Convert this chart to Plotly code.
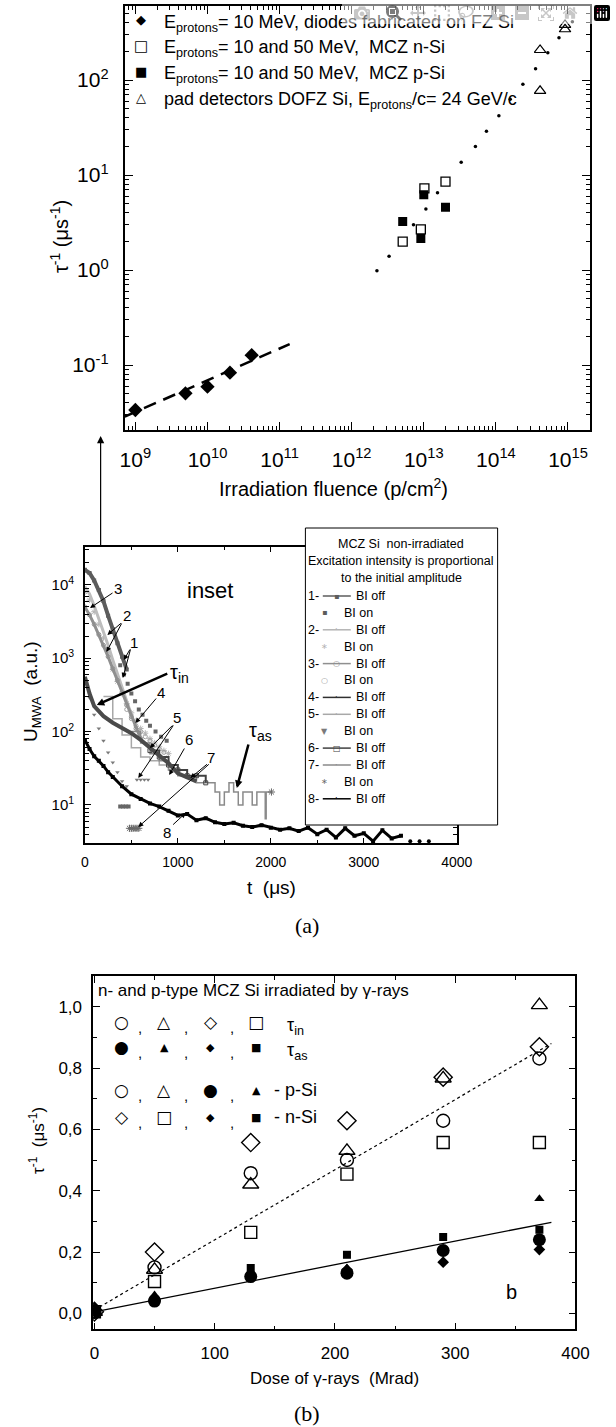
import plotly.graph_objects as go

W, H = 616, 1427
SANS = "Liberation Sans, Arial, sans-serif"
SERIF = "Liberation Serif, Times New Roman, serif"
GLYPH = "DejaVu Sans"

# ---------------- (a) upper panel: tau^-1 vs fluence ----------------
fz_fluence = [1.0e9, 4.95e9, 1.0e10, 2.05e10, 4.1e10]
fz_rate = [0.0336, 0.0503, 0.0591, 0.083, 0.127]
fz_fit_fluence = [7.13e8, 1.38e11]
fz_fit_rate = [0.0286, 0.166]
mcz_n_fluence = [5.1e12, 9.1e12, 1.02e13, 2.0e13]
mcz_n_rate = [1.99, 2.68, 7.25, 8.5]
mcz_p_fluence = [5.1e12, 9.1e12, 1.0e13, 2.0e13]
mcz_p_rate = [3.24, 2.15, 6.2, 4.57]
dofz_fluence = [4.1e14, 4.1e14, 9.1e14, 9.1e14]
dofz_rate = [207, 77, 342, 380]
trend_fluence = [2.24e12, 3.3e12, 7.2e12, 1.07e13, 1.55e13, 3.3e13, 5.2e13, 7.4e13,
                 1.1e14, 1.58e14, 2.37e14, 3.55e14, 5.25e14, 7.5e14, 1.15e15]
trend_rate = [0.98, 1.40, 3.0, 4.4, 6.5, 13.6, 19.9, 28.8, 42, 62.6, 90, 131, 194, 278, 410]
fluence_ticks = [1e9, 1e10, 1e11, 1e12, 1e13, 1e14, 1e15]
fluence_ticktext = ["10<sup>9</sup>", "10<sup>10</sup>", "10<sup>11</sup>", "10<sup>12</sup>",
                    "10<sup>13</sup>", "10<sup>14</sup>", "10<sup>15</sup>"]
rate_ticks = [0.1, 1, 10, 100]
rate_ticktext = ["10<sup>-1</sup>", "10<sup>0</sup>", "10<sup>1</sup>", "10<sup>2</sup>"]

# ---------------- (a) inset: MWA transients ----------------
c1_off_t = [0, 50, 100, 150, 200, 250, 300, 350, 400, 450]
c1_off_u = [16000, 14500, 11500, 8500, 6000, 3800, 2500, 1600, 1050, 700]
c1_on_t = [380, 420, 460, 500, 540, 580, 620, 660, 700, 760, 820, 880, 380, 410, 440, 470]
c1_on_u = [800, 600, 450, 330, 260, 200, 170, 140, 120, 100, 85, 75, 9.5, 9.5, 9.5, 9.5]
c2_off_t = [0, 50, 100, 150, 200, 250, 300, 350, 400, 450, 500]
c2_off_u = [9500, 7500, 5200, 3500, 2300, 1500, 950, 620, 400, 260, 170]
c2_on_t = [0, 50, 100, 150, 200, 250, 300, 350, 400, 450, 500, 550, 600, 650, 700, 750, 800, 850, 900]
c2_on_u = [8000, 6200, 4300, 2900, 1900, 1200, 700, 480, 330, 240, 180, 140, 110, 95, 80, 70, 62, 55, 50]
c3_off_t = [0, 50, 100, 150, 200, 250, 300, 350, 400, 450, 500, 550, 600]
c3_off_u = [5000, 3900, 2900, 2100, 1500, 1050, 720, 500, 340, 230, 160, 110, 80]
c3_on_t = [450, 500, 550, 600, 650, 700, 750, 800, 850]
c3_on_u = [200, 150, 120, 100, 85, 75, 65, 58, 52]
c4_off_t = [0, 50, 100, 150, 200, 300, 400, 500, 600, 700, 800, 900, 1000, 1100, 1200]
c4_off_u = [560, 330, 222, 185, 162, 132, 113, 95, 77, 60, 47, 37, 27, 24, 21]
c5_off_t = [200, 300, 400, 500, 600, 700, 800, 900, 1000]
c5_off_u = [300, 150, 90, 60, 45, 40, 35, 30, 28]
c5_on_t = [0, 50, 100, 150, 200, 250, 300, 350, 400, 450, 560, 600, 640, 680]
c5_on_u = [500, 290, 170, 110, 75, 52, 38, 28, 21, 18, 22, 22, 22, 22]
c6_off_t = [700, 800, 900, 1000, 1100, 1200, 1300]
c6_off_u = [55, 45, 35, 30, 25, 25, 20]
c7_off_t = [500, 600, 700, 800, 900, 1000, 1100, 1200, 1300, 1400, 1450, 1500, 1550, 1600, 1650,
            1700, 1750, 1800, 1850, 1900, 1940, 1950, 2000, 2010]
c7_off_u = [100, 70, 50, 40, 30, 25, 25, 20, 20, 15, 10, 15, 20, 15, 10, 15, 15, 10, 15, 15,
            6.5, 15, 15, 15]
c7_on_t = [480, 500, 520, 540, 560, 580, 2007]
c7_on_u = [4.8, 4.8, 4.8, 4.8, 4.8, 4.8, 15]
c8_off_t = [0, 50, 100, 150, 200, 250, 300, 400, 500, 600, 700, 800, 900, 1000, 1100, 1200,
            1300, 1400, 1500, 1600, 1700, 1800, 1900, 2000, 2100, 2200, 2300, 2400, 2500, 2600,
            2700, 2800, 2900, 3000, 3100, 3200, 3300, 3400]
c8_off_u = [77, 58, 46, 40, 34, 28, 24, 18, 14, 12, 10.5, 9.5, 8.3, 7.2, 7.5, 6.2, 6.6, 5.8,
            5.5, 5.7, 5.2, 5.0, 5.3, 4.9, 4.6, 4.8, 4.4, 4.9, 4.0, 4.6, 3.6, 4.8, 3.8, 4.1,
            3.2, 4.5, 3.5, 3.8]
c8_tail_t = [3500, 3600, 3700]
c8_tail_u = [3.2, 3.2, 3.2]
inset_yticks = [10, 100, 1000, 10000]
inset_yticktext = ["10<sup>1</sup>", "10<sup>2</sup>", "10<sup>3</sup>", "10<sup>4</sup>"]

# ---------------- (b) gamma irradiation ----------------
dose = [0, 50, 130, 210, 290, 370]
p_in_circle = [0.005, 0.15, 0.457, 0.50, 0.628, 0.831]
p_in_triangle = [0.005, 0.142, 0.42, 0.53, 0.766, 1.005]
n_in_diamond = [0.005, 0.20, 0.557, 0.628, 0.77, 0.869]
n_in_square = [0.005, 0.104, 0.264, 0.454, 0.557, 0.557]
p_as_circle = [0.005, 0.04, 0.12, 0.131, 0.205, 0.24]
p_as_triangle = [0.005, 0.06, 0.13, 0.148, 0.2, 0.374]
n_as_diamond = [0.02, 0.05, 0.125, 0.142, 0.167, 0.208]
n_as_square = [0.005, 0.045, 0.148, 0.191, 0.249, 0.273]
fit_dose = [0, 380]
fit_as = [0.005, 0.297]
fit_in = [0.011, 0.88]
b_yticks = [0.0, 0.2, 0.4, 0.6, 0.8, 1.0]
b_yticktext = ["0,0", "0,2", "0,4", "0,6", "0,8", "1,0"]


def P(px, py):
    return px / W, 1 - py / H


fig = go.Figure()

# ---- upper panel traces
fig.add_trace(go.Scatter(x=fz_fit_fluence, y=fz_fit_rate, mode="lines",
                         line=dict(color="black", width=2.5, dash="13px,8px"), xaxis="x", yaxis="y"))
fig.add_trace(go.Scatter(x=trend_fluence, y=trend_rate, mode="markers",
                         marker=dict(color="black", size=3.5), xaxis="x", yaxis="y"))
fig.add_trace(go.Scatter(x=fz_fluence, y=fz_rate, mode="markers",
                         marker=dict(symbol="diamond", color="black", size=11), xaxis="x", yaxis="y"))
fig.add_trace(go.Scatter(x=mcz_p_fluence, y=mcz_p_rate, mode="markers",
                         marker=dict(symbol="square", color="black", size=9), xaxis="x", yaxis="y"))
fig.add_trace(go.Scatter(x=mcz_n_fluence, y=mcz_n_rate, mode="markers",
                         marker=dict(symbol="square-open", color="black", size=9, line=dict(width=1.3)),
                         xaxis="x", yaxis="y"))
fig.add_trace(go.Scatter(x=dofz_fluence, y=dofz_rate, mode="markers",
                         marker=dict(symbol="triangle-up-open", color="black", size=10, line=dict(width=1.2)),
                         xaxis="x", yaxis="y"))

# ---- inset traces
def inset(t, u, mode, color, width=2, symbol="circle", size=4, shape="linear", mline=None):
    kw = dict(x=t, y=u, mode=mode, xaxis="x2", yaxis="y2")
    if "lines" in mode:
        kw["line"] = dict(color=color, width=width, shape=shape)
    m = dict(symbol=symbol, color=color, size=size)
    if mline:
        m["line"] = dict(color=color, width=mline)
    kw["marker"] = m
    fig.add_trace(go.Scatter(**kw))

inset(c2_on_t, c2_on_u, "markers", "#b4b4b4", symbol="asterisk", size=5, mline=1)
inset(c2_off_t, c2_off_u, "lines", "#bdbdbd", width=3)
inset(c3_on_t, c3_on_u, "markers", "#a0a0a0", symbol="circle-open", size=4, mline=1)
inset(c3_off_t, c3_off_u, "lines+markers", "#8f8f8f", width=3, symbol="circle-open", size=4, mline=1)
inset(c1_on_t, c1_on_u, "markers", "#666666", symbol="square", size=4)
inset(c1_off_t, c1_off_u, "lines+markers", "#5c5c5c", width=4, symbol="square", size=4)
inset(c5_off_t, c5_off_u, "lines", "#a8a8a8", width=1.5, shape="hv")
inset(c5_on_t, c5_on_u, "markers", "#7a7a7a", symbol="triangle-down", size=4)
inset(c7_off_t, c7_off_u, "lines", "#8a8a8a", width=1.5, shape="hv")
inset(c7_on_t, c7_on_u, "markers", "#6a6a6a", symbol="asterisk", size=6, mline=1)
inset(c6_off_t, c6_off_u, "lines+markers", "#404040", width=2, symbol="square-open", size=4, shape="hv", mline=1)
inset(c4_off_t, c4_off_u, "lines", "#4a4a4a", width=4)
inset(c8_off_t, c8_off_u, "lines+markers", "black", width=3, symbol="square", size=4)
inset(c8_tail_t, c8_tail_u, "markers", "black", symbol="circle", size=4)

# ---- panel (b) traces
def bt(y, symbol, size, lw=1.4):
    fig.add_trace(go.Scatter(x=dose, y=y, mode="markers", xaxis="x3", yaxis="y3",
                             marker=dict(symbol=symbol, size=size, color="black",
                                         line=dict(color="black", width=lw))))

fig.add_trace(go.Scatter(x=fit_dose, y=fit_in, mode="lines", xaxis="x3", yaxis="y3",
                         line=dict(color="black", width=1.2, dash="dot")))
fig.add_trace(go.Scatter(x=fit_dose, y=fit_as, mode="lines", xaxis="x3", yaxis="y3",
                         line=dict(color="black", width=1.3)))
bt(p_as_circle, "circle", 13, 0)
bt(p_as_triangle, "triangle-up", 9, 0)
bt(n_as_diamond, "diamond", 9, 0)
bt(n_as_square, "square", 8, 0)
bt(p_in_circle, "circle-open", 13)
bt(p_in_triangle, "triangle-up-open", 14)
bt(n_in_diamond, "diamond-open", 14)
bt(n_in_square, "square-open", 12)

# ---------------- axes ----------------
def axstyle(lw=1.5, size=14, tl=8, standoff=6):
    return dict(showline=True, linecolor="black", linewidth=lw, mirror="ticks",
                ticks="inside", ticklen=tl, tickwidth=1.3, tickcolor="black",
                showgrid=False, zeroline=False, ticklabelstandoff=standoff,
                tickfont=dict(family=SANS, size=size, color="black"))

def logminor(lo, hi):
    vals = []
    for e in range(lo, hi):
        for k in range(2, 10):
            vals.append(k * 10 ** e)
    return dict(ticks="inside", ticklen=4, tickwidth=1, tickcolor="black",
                tickmode="array", tickvals=vals, showgrid=False)

layout = dict(
    width=W, height=H, margin=dict(l=0, r=0, t=0, b=0),
    paper_bgcolor="white", plot_bgcolor="white", showlegend=False,
    xaxis=dict(**axstyle(2, 21, 8, 10), type="log", range=[8.853, 15.31],
               domain=[124 / W, 606 / W], anchor="y",
               tickmode="array", tickvals=fluence_ticks, ticktext=fluence_ticktext,
               minor=logminor(8, 16)),
    yaxis=dict(**axstyle(2, 21, 8, 10), type="log", range=[-1.684, 2.779],
               domain=[1 - 430 / H, 1 - 6 / H], anchor="x",
               tickmode="array", tickvals=rate_ticks, ticktext=rate_ticktext,
               minor=logminor(-2, 3)),
    xaxis2=dict(**axstyle(1.5, 14, 6, 5), range=[0, 4000], dtick=1000,
                domain=[82.7 / W, 467.7 / W], anchor="y2",
                minor=dict(ticks="inside", ticklen=4, dtick=500, tickcolor="black", showgrid=False)),
    yaxis2=dict(**axstyle(1.5, 15, 6, 6), type="log", range=[0.477, 4.52],
                domain=[1 - 843.3 / H, 1 - 546.7 / H], anchor="x2",
                tickmode="array", tickvals=inset_yticks, ticktext=inset_yticktext,
                minor=logminor(0, 5)),
    xaxis3=dict(**axstyle(1.5, 17, 7, 8), range=[-1, 400], dtick=100,
                domain=[91.3 / W, 590.6 / W], anchor="y3",
                minor=dict(ticks="inside", ticklen=4, dtick=50, tickcolor="black", showgrid=False)),
    yaxis3=dict(**axstyle(1.5, 17, 7, 6), range=[-0.052, 1.10],
                domain=[1 - 1329.3 / H, 1 - 976 / H], anchor="x3",
                tickmode="array", tickvals=b_yticks, ticktext=b_yticktext,
                minor=dict(ticks="inside", ticklen=4, dtick=0.1, tickcolor="black", showgrid=False)),
)

annotations = []
shapes = []

def text(px, py, s, size, xa="center", ya="middle", family=SANS, angle=0, color="black"):
    x, y = P(px, py)
    annotations.append(dict(x=x, y=y, xref="paper", yref="paper", text=s, showarrow=False,
                            xanchor=xa, yanchor=ya, textangle=angle,
                            font=dict(size=size, family=family, color=color)))

def arrow(hx, hy, tx, ty, width=1.0, head=2, size=1.0):
    x, y = P(hx, hy)
    annotations.append(dict(x=x, y=y, xref="paper", yref="paper", ax=tx - hx, ay=ty - hy,
                            text="", showarrow=True, arrowhead=head, arrowwidth=width,
                            arrowsize=size, arrowcolor="black"))

# ---- upper panel labels
text(56, 237, "τ<sup>-1</sup> (μs<sup>-1</sup>)", 20, angle=-90)
text(340, 487, "Irradiation fluence (p/cm<sup>2</sup>)", 20)
leg_rows = [("◆", 13, "E<sub>protons</sub>= 10 MeV, diodes fabricated on FZ Si"),
            ("□", 15, "E<sub>protons</sub>= 10 and 50 MeV,  MCZ n-Si"),
            ("■", 13, "E<sub>protons</sub>= 10 and 50 MeV,  MCZ p-Si"),
            ("△", 13, "pad detectors DOFZ Si, E<sub>protons</sub>/c= 24 GeV/c")]
for i, (g, gs, s) in enumerate(leg_rows):
    yy = 20 + i * 25.7
    text(141, yy, g, gs, family=GLYPH)
    text(163, yy + 3, s, 18, xa="left")

# arrow from inset to upper panel
arrow(99, 436, 99, 547, width=1.2, head=2, size=1.2)

# ---- inset labels
text(28, 692, "U<sub>MWA</sub>  (a.u.)", 19, angle=-90)
text(276, 887, "t  (μs)", 19)
text(313, 925, "(a)", 22, family=SERIF)
text(212, 590, "inset", 22)
for lab, px, py in [("3", 117, 588), ("2", 126, 615), ("1", 134, 642), ("4", 162, 692),
                    ("5", 178, 718), ("6", 190, 740), ("7", 213, 757), ("8", 168, 832)]:
    text(px, py, lab, 15)
text(181, 673, "τ<sub>in</sub>", 20)
text(264, 731, "τ<sub>as</sub>", 20)
arrow(88, 608, 112, 592)
arrow(106, 635, 121, 622)
arrow(105, 652, 121, 622)
arrow(123, 660, 130, 648)
arrow(122, 678, 130, 648)
arrow(95, 705, 167, 673, width=2.5, size=0.6)
arrow(135, 723, 157, 697)
arrow(150, 748, 174, 724)
arrow(138, 778, 174, 724)
arrow(170, 775, 186, 747)
arrow(192, 778, 210, 763)
arrow(138, 827, 210, 763)
arrow(187, 813, 173, 826)
arrow(240, 788, 252, 743, width=2.5, size=0.6)

# inset legend box
x0, y0 = P(311, 528)
x1, y1 = P(510, 825)
shapes.append(dict(type="rect", xref="paper", yref="paper", x0=x0, y0=y1, x1=x1, y1=y0,
                   line=dict(color="black", width=1), fillcolor="white", layer="above"))
for s, yy in [("MCZ Si  non-irradiated", 544), ("Excitation intensity is proportional", 561),
              ("to the initial amplitude", 578)]:
    text(410, yy, s, 12.5)
inset_leg = [("1-", "BI off", "#5c5c5c", "▪"), ("", "BI on", "#5c5c5c", "▪"),
             ("2-", "BI off", "#b4b4b4", "·"), ("", "BI on", "#b4b4b4", "∗"),
             ("3-", "BI off", "#8f8f8f", "○"), ("", "BI on", "#a0a0a0", "○"),
             ("4-", "BI off", "#303030", "·"), ("5-", "BI off", "#a8a8a8", "·"),
             ("", "BI on", "#7a7a7a", "▼"), ("6-", "BI off", "#404040", "□"),
             ("7-", "BI off", "#8a8a8a", "·"), ("", "BI on", "#6a6a6a", "∗"),
             ("8-", "BI off", "black", "·")]
for i, (num, lab, col, g) in enumerate(inset_leg):
    yy = 596 + i * 16.9
    if num:
        text(312, yy, num, 12.5, xa="left")
        ax0, ay0 = P(329, yy)
        ax1, _ = P(358, yy)
        shapes.append(dict(type="line", xref="paper", yref="paper", x0=ax0, y0=ay0, x1=ax1, y1=ay0,
                           line=dict(color=col, width=1.5), layer="above"))
        text(343.5, yy, g, 8, family=GLYPH, color=col)
        text(361, yy, lab, 12.5, xa="left")
    else:
        text(331, yy, g, 8, family=GLYPH, color=col)
        text(349, yy, lab, 12.5, xa="left")

# ---- panel (b) labels
text(94, 990, "n- and p-type MCZ Si irradiated by γ-rays", 17, xa="left")
cols = [121, 165, 213, 260]
commas = [140, 187, 235]
b_rows = [(1022, [("○", 17), ("△", 17), ("◇", 17), ("□", 17)], "τ<sub>in</sub>", 290),
          (1047, [("●", 17), ("▲", 11), ("◆", 11), ("■", 11)], "τ<sub>as</sub>", 290),
          (1090, [("○", 17), ("△", 17), ("●", 17), ("▲", 11)], "- p-Si", 276),
          (1117, [("◇", 17), ("□", 17), ("◆", 11), ("■", 11)], "- n-Si", 276)]
for yy, glyphs, lab, lx in b_rows:
    for (g, gs), cx in zip(glyphs, cols):
        text(cx, yy, g, gs, family=GLYPH)
    for cx in commas:
        text(cx, yy + 5, ",", 15)
    text(lx, yy + (4 if "sub" in lab else 0), lab, 18, xa="left")
text(524, 1292, "b", 20)
text(341, 1378, "Dose of γ-rays  (Mrad)", 17)
text(33, 1140, "τ<sup>-1</sup>  (μs<sup>-1</sup>)", 17, angle=-90)
text(313, 1413, "(b)", 22, family=SERIF)

layout["annotations"] = annotations
layout["shapes"] = shapes
fig.update_layout(**layout)
fig.write_html("out.html",
               post_script="document.body.style.margin='0';document.body.style.padding='0';"
                           "document.body.style.overflow='hidden';")
